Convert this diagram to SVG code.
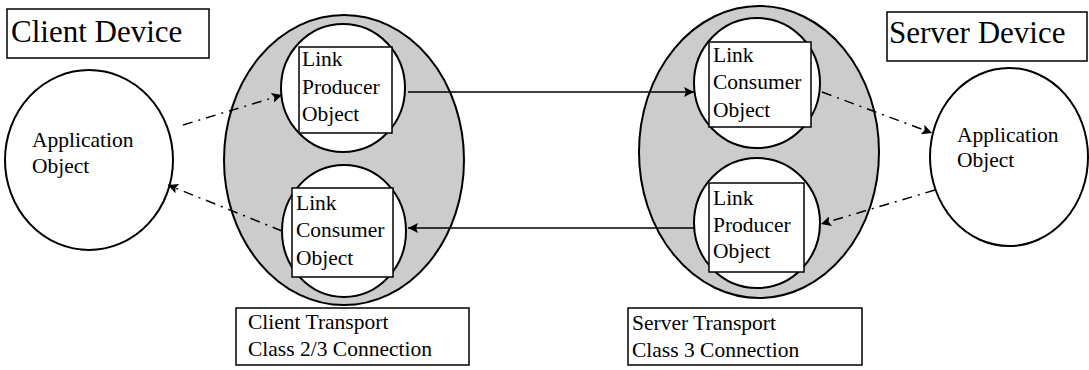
<svg xmlns="http://www.w3.org/2000/svg" width="1089" height="370" viewBox="0 0 1089 370" font-family="'Liberation Serif', 'DejaVu Serif', serif">
<style>
  text { font-family: 'Liberation Serif', 'DejaVu Serif', serif; fill: #000; }
  .big { font-size: 31px; }
  .sm { font-size: 21.5px; }
  .box { fill: #fff; stroke: #000; stroke-width: 1.5; }
  .outer { fill: #cccccc; stroke: #000; stroke-width: 2; }
  .inner { fill: #fff; stroke: #000; stroke-width: 2; }
  .app { fill: #fff; stroke: #000; stroke-width: 2; }
  .solid { stroke: #000; stroke-width: 1.5; fill: none; }
  .dd { stroke: #000; stroke-width: 1.5; fill: none; stroke-dasharray: 10 6 2 6; }
</style>
<defs>
  <marker id="ah" viewBox="0 0 10 10" refX="10" refY="5" markerWidth="10" markerHeight="10" markerUnits="userSpaceOnUse" orient="auto">
    <path d="M0,0 L10,5 L0,10 L2,5 Z" fill="#000"/>
  </marker>
</defs>

<g id="client-device-label">
  <rect class="box" x="7" y="9" width="202" height="49"/>
  <text class="big" x="11" y="42">Client Device</text>
</g>

<g id="server-device-label">
  <rect class="box" x="887" y="12" width="200" height="49"/>
  <text class="big" x="889" y="43">Server Device</text>
</g>

<g id="client-app">
  <ellipse class="app" cx="89" cy="160" rx="84" ry="90"/>
  <text class="sm" x="32" y="147">Application</text>
  <text class="sm" x="32" y="173">Object</text>
</g>

<g id="server-app">
  <ellipse class="app" cx="1009" cy="157" rx="79" ry="89"/>
  <text class="sm" x="957" y="142">Application</text>
  <text class="sm" x="957" y="167">Object</text>
</g>

<g id="client-transport">
  <ellipse class="outer" cx="344" cy="160" rx="120" ry="145"/>
</g>

<g id="server-transport">
  <ellipse class="outer" cx="759" cy="152" rx="120" ry="146"/>
</g>

<g id="client-producer">
  <ellipse class="inner" cx="343" cy="88" rx="62" ry="64"/>
  <rect class="box" x="299" y="47" width="93" height="86"/>
  <text class="sm" x="302" y="66">Link</text>
  <text class="sm" x="302" y="94">Producer</text>
  <text class="sm" x="302" y="121">Object</text>
</g>

<g id="client-consumer">
  <ellipse class="inner" cx="344" cy="231" rx="62" ry="66"/>
  <rect class="box" x="292" y="188" width="101" height="89"/>
  <text class="sm" x="296" y="210">Link</text>
  <text class="sm" x="296" y="237">Consumer</text>
  <text class="sm" x="296" y="265">Object</text>
</g>

<g id="server-consumer">
  <ellipse class="inner" cx="757" cy="83" rx="63" ry="65"/>
  <rect class="box" x="709" y="42" width="102" height="85"/>
  <text class="sm" x="713" y="62">Link</text>
  <text class="sm" x="713" y="89">Consumer</text>
  <text class="sm" x="713" y="117">Object</text>
</g>

<g id="server-producer">
  <ellipse class="inner" cx="757" cy="223" rx="63" ry="65"/>
  <rect class="box" x="709" y="183" width="95" height="89"/>
  <text class="sm" x="713" y="205">Link</text>
  <text class="sm" x="713" y="232">Producer</text>
  <text class="sm" x="713" y="258">Object</text>
</g>

<g id="client-transport-label">
  <rect class="box" x="236" y="308" width="233" height="57"/>
  <text class="sm" x="248" y="329">Client Transport</text>
  <text class="sm" x="248" y="356">Class 2/3 Connection</text>
</g>

<g id="server-transport-label">
  <rect class="box" x="628" y="308" width="234" height="57"/>
  <text class="sm" x="632" y="330">Server Transport</text>
  <text class="sm" x="632" y="357">Class 3 Connection</text>
</g>

<g id="connectors">
  <line class="solid" x1="408" y1="92" x2="694" y2="92" marker-end="url(#ah)"/>
  <line class="solid" x1="695" y1="228" x2="408" y2="228" marker-end="url(#ah)"/>
  <line class="dd" x1="183" y1="125" x2="282" y2="95" marker-end="url(#ah)"/>
  <line class="dd" x1="282" y1="231" x2="168" y2="185" marker-end="url(#ah)"/>
  <line class="dd" x1="822" y1="92" x2="932" y2="133" marker-end="url(#ah)"/>
  <line class="dd" x1="935" y1="190" x2="821" y2="224" marker-end="url(#ah)"/>
</g>
</svg>
